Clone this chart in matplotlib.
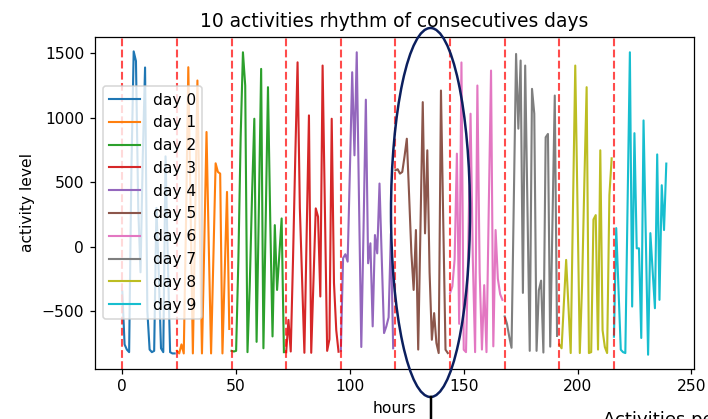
import matplotlib
matplotlib.use("Agg")
import matplotlib.pyplot as plt
import numpy as np
from matplotlib.patches import Ellipse
from matplotlib.lines import Line2D

# ---------------- data ----------------
hours_per_day = 24
day_labels = ["day 0", "day 1", "day 2", "day 3", "day 4",
              "day 5", "day 6", "day 7", "day 8", "day 9"]

day0 = [-350, -760, -800, -820, 600, 1515, 1440, 300, -200, 700, 1390, -500,
        -800, -820, -810, 300, -200, -790, -820, 700, -100, -820, -830, -830]
day1 = [-810, -830, -760, -830, 200, 1392, 300, -830, 200, 1289, 200, -830,
        0, 889, 0, -830, -100, 646, 579, 566, -830, -200, 424, -640]
day2 = [-810, -815, -810, -100, 850, 1508, 1250, -820, -300, 400, 992, -740,
        300, 1379, -790, 200, 1237, 200, -698, 166, -337, -60, 218, -820]
day3 = [-820, -570, -815, -100, 700, 1430, 300, -260, -825, 100, 1018, -825,
        -260, 296, 231, -388, 1405, 300, -810, -720, 992, -283, -650, -817]
day4 = [-810, -90, -60, -117, 600, 1353, 708, 1508, 350, -780, 150, 1140,
        -130, 25, -620, 89, -53, 489, -100, -672, -620, -550, 100, -790]
day5 = [592, 600, 566, 579, 700, 837, 400, -50, -337, 128, -800, 150,
        1121, 102, 747, -200, -724, -517, -749, -827, 1211, 200, -801, -827]
day6 = [-362, -310, -100, 721, -600, 1429, -801, -820, 0, 1031, -100, -820,
        1250, -200, -800, -300, -820, 300, 1366, -775, 128, -250, -370, -414]
day7 = [-543, -600, -700, -786, 350, 1495, 915, 1444, -360, 1405, 300, -810,
        1224, 1031, -810, -340, -265, -823, 848, 874, -777, 200, 1172, -694]
day8 = [-760, -790, -440, -104, -460, -827, 300, 1405, 300, -827, -300, 500,
        1237, -827, -820, 210, 244, -800, 747, -650, -780, -827, 400, 685]
day9 = [-700, 143, -330, -801, -820, -827, 340, 1508, -466, 880, -14, -14,
        -710, 979, 70, -840, 104, -190, -479, 715, -414, 476, 128, 644]

days = [day0, day1, day2, day3, day4, day5, day6, day7, day8, day9]
day_boundaries = [0, 24, 48, 72, 96, 120, 144, 168, 192, 216]

# ---------------- figure ----------------
W, H = 708, 419
DPI = 112
fig = plt.figure(figsize=(W / DPI, H / DPI), dpi=DPI)
ax_left, ax_right, ax_top, ax_bottom = 95.1, 693.5, 36.7, 368.5
ax = fig.add_axes([ax_left / W, 1 - ax_bottom / H,
                   (ax_right - ax_left) / W, (ax_bottom - ax_top) / H])

for i, vals in enumerate(days):
    x = np.arange(i * hours_per_day, i * hours_per_day + len(vals))
    ax.plot(x, vals, label=day_labels[i], linewidth=1.35)

for b in day_boundaries:
    ax.axvline(b, color="red", linestyle="--", alpha=0.7, linewidth=1.35)

ax.set_xlim(-11.95, 250.95)
ax.set_ylim(-947, 1629)
ax.set_title("10 activities rhythm of consecutives days")
ax.set_xlabel("hours")
ax.set_ylabel("activity level")
ax.legend(loc="center left")

# annotation ellipse and pointer line (figure pixel coords -> fractions)
ell = Ellipse((430.5 / W, 1 - 212.5 / H), 79 / W, 369 / H,
              transform=fig.transFigure, fill=False,
              edgecolor="#0b1f5e", linewidth=1.6, clip_on=False)
fig.add_artist(ell)
fig.add_artist(Line2D([430.5 / W, 430.5 / W], [1 - 397 / H, 0],
                      transform=fig.transFigure, color="black", linewidth=1.6))
fig.text(603 / W, 1 - 425 / H, "Activities per day", fontsize=11.6,
         va="baseline", ha="left")

fig.savefig("out.png", dpi=DPI)
